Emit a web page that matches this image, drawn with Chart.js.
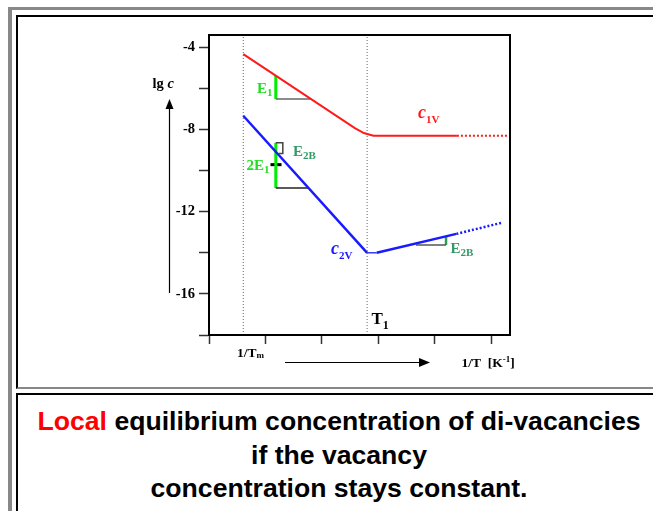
<!DOCTYPE html>
<html>
<head>
<meta charset="utf-8">
<script src="https://cdn.jsdelivr.net/npm/chart.js@4"></script>
<style>
  html, body { margin:0; padding:0; background:#fff; width:653px; height:511px; overflow:hidden; }
  #outer { position:absolute; left:8px; top:7px; width:800px; height:600px; border-top:3px solid #888; border-left:4px solid #888; }
  #p1 { position:absolute; left:16px; top:15px; width:800px; height:370px; border-top:2px solid #000; border-left:2px solid #000; border-bottom:2px solid #888; }
  #p2 { position:absolute; left:16px; top:393px; width:800px; height:300px; border-top:2px solid #000; border-left:2px solid #000; }
  #cap { position:absolute; left:0; top:405px; width:678px; text-align:center; font-family:"Liberation Sans", Arial, sans-serif; font-weight:bold; font-size:26.6px; line-height:33.5px; color:#000; }
  #cap .red { color:#ff0000; }
  #c { position:absolute; left:0; top:0; }
</style>
</head>
<body>
<div id="outer"></div>
<div id="p1"></div>
<div id="p2"></div>
<div id="cap"><span class="red">Local</span> equilibrium concentration of di-vacancies<br>if the vacancy<br>concentration stays constant.</div>
<canvas id="c" width="653" height="387"></canvas>
<script>
// ---- data ----
const xTicks = [0, 1, 2, 3, 4, 5];
const yTicks = [-18, -16, -14, -12, -10, -8, -6, -4];
const yLabelled = [-16, -12, -8, -4];

// c1V : vacancy concentration (red)
const c1vX = [0.607, 2.583, 2.743, 2.911, 4.39, 5.28];
const c1vY = [-4.33, -7.93, -8.17, -8.30, -8.30, -8.30];
// c2V : di-vacancy concentration (blue)
const c2vX = [0.607, 2.80, 2.97, 4.38, 5.18];
const c2vY = [-7.33, -14.0, -14.0, -13.08, -12.54];

// vertical markers: 1/Tm and T1
const markerX = [0.607, 2.80];

// slope triangles
const e1BarX = [1.183, 1.183],  e1BarY = [-5.38, -6.52];
const e1BaseX = [1.183, 1.81],  e1BaseY = [-6.52, -6.52];
const e2BarX = [1.183, 1.183],  e2BarY = [-8.64, -10.84];
const e2BaseX = [1.183, 1.76],  e2BaseY = [-10.84, -10.84];
const e2MidX = [1.089, 1.284],  e2MidY = [-9.71, -9.71];
const brX = [1.183, 1.307, 1.307, 1.24], brY = [-8.64, -8.64, -9.17, -9.17];
const e2bBaseX = [3.665, 4.197], e2bBaseY = [-13.62, -13.62];
const e2bBarX = [4.197, 4.197],  e2bBarY = [-13.62, -13.18];

const X_MIN = 0, X_MAX = 5.33, Y_MIN = -18, Y_MAX = -3.4;

// ---- helpers ----
const pts = (xs, ys) => xs.map((x, i) => ({ x: x, y: ys[i] }));
function ds(data, color, width, extra) {
  return Object.assign({ data: data, borderColor: color, borderWidth: width, showLine: true,
    pointRadius: 0, fill: false, tension: 0 }, extra || {});
}

const datasets = [];
markerX.forEach(mx => datasets.push(ds(pts([mx, mx], [Y_MIN, Y_MAX]), '#666', 1, { borderDash: [1, 2] })));
datasets.push(ds(pts(c1vX, c1vY), '#ff1a1a', 2, {
  segment: { borderDash: c => c.p0DataIndex >= c1vX.length - 2 ? [2, 2] : undefined }
}));
datasets.push(ds(pts(c2vX, c2vY), '#1a1aff', 2.5, {
  segment: {
    borderDash: c => c.p0DataIndex >= c2vX.length - 2 ? [2, 2] : undefined,
    borderWidth: c => c.p0DataIndex === 1 ? 1.3 : undefined
  }
}));
datasets.push(ds(pts(e1BaseX, e1BaseY), '#666', 1.5));
datasets.push(ds(pts(e2BaseX, e2BaseY), '#222', 1.5));
datasets.push(ds(pts(brX, brY), '#444', 1.5));
datasets.push(ds(pts(e2bBaseX, e2bBaseY), '#555', 1.5));
datasets.push(ds(pts(e1BarX, e1BarY), '#00ee00', 3));
datasets.push(ds(pts(e2BarX, e2BarY), '#00ee00', 3));
datasets.push(ds(pts(e2MidX, e2MidY), '#000', 3));
datasets.push(ds(pts(e2bBarX, e2bBarY), '#2e9b57', 2.5));

const SERIF = '"Liberation Serif", "Times New Roman", serif';

function text(ctx, s, x, y, font, color) {
  ctx.font = font; ctx.fillStyle = color; ctx.textBaseline = 'alphabetic'; ctx.textAlign = 'left';
  ctx.fillText(s, x, y);
  return x + ctx.measureText(s).width;
}
function withSub(ctx, main, sub, x, y, mainFont, subFont, color, dy) {
  const x2 = text(ctx, main, x, y, mainFont, color);
  return text(ctx, sub, x2, y + dy, subFont, color);
}

const deco = {
  id: 'deco',
  afterDraw(chart) {
    const ctx = chart.ctx, a = chart.chartArea;
    ctx.save();
    // plot frame
    ctx.strokeStyle = '#000'; ctx.lineWidth = 2;
    ctx.strokeRect(a.left, a.top, a.right - a.left, a.bottom - a.top);

    // vertical arrow (lg c)
    ctx.lineWidth = 1.2;
    ctx.beginPath(); ctx.moveTo(169.5, 293); ctx.lineTo(169.5, 106); ctx.stroke();
    ctx.fillStyle = '#000';
    ctx.beginPath(); ctx.moveTo(169.5, 99); ctx.lineTo(165.5, 109); ctx.lineTo(173.5, 109); ctx.closePath(); ctx.fill();
    // horizontal arrow (1/T)
    ctx.beginPath(); ctx.moveTo(285, 362.5); ctx.lineTo(422, 362.5); ctx.stroke();
    ctx.beginPath(); ctx.moveTo(430, 362.5); ctx.lineTo(419, 358); ctx.lineTo(419, 367); ctx.closePath(); ctx.fill();

    // axis titles
    let xe = text(ctx, 'lg ', 152.5, 87.5, 'bold 14.5px ' + SERIF, '#000');
    text(ctx, 'c', xe, 87.5, 'italic bold 14.5px ' + SERIF, '#000');
    withSub(ctx, '1/T', 'm', 237, 356.5, 'bold 13.5px ' + SERIF, 'bold 9px ' + SERIF, '#000', 1.5);
    xe = text(ctx, '1/T  [K', 461.5, 366.5, 'bold 13.5px ' + SERIF, '#000');
    xe = text(ctx, '-1', xe, 361.5, 'bold 9px ' + SERIF, '#000');
    text(ctx, ']', xe, 366.5, 'bold 13.5px ' + SERIF, '#000');

    // T1
    withSub(ctx, 'T', '1', 371.5, 323.5, 'bold 17px ' + SERIF, 'bold 12px ' + SERIF, '#000', 5);

    // energies
    withSub(ctx, 'E', '1', 257, 92.7, 'bold 15px ' + SERIF, 'bold 11px ' + SERIF, '#22dd22', 3.5);
    withSub(ctx, '2E', '1', 246.5, 169.5, 'bold 15px ' + SERIF, 'bold 11px ' + SERIF, '#22dd22', 3.5);
    withSub(ctx, 'E', '2B', 293, 156, 'bold 15px ' + SERIF, 'bold 11px ' + SERIF, '#339966', 3);
    withSub(ctx, 'E', '2B', 450.5, 252.7, 'bold 15px ' + SERIF, 'bold 11px ' + SERIF, '#339966', 3);

    // curve names
    withSub(ctx, 'c', '1V', 418, 117.5, 'italic bold 18px ' + SERIF, 'bold 11px ' + SERIF, '#ff1a1a', 5);
    withSub(ctx, 'c', '2V', 331, 254, 'italic bold 18px ' + SERIF, 'bold 11px ' + SERIF, '#1a1aff', 5);
    ctx.restore();
  }
};

new Chart(document.getElementById('c'), {
  type: 'scatter',
  data: { datasets: datasets },
  options: {
    responsive: false,
    animation: false,
    devicePixelRatio: 1,
    layout: { padding: { left: 0, right: 143, top: 35, bottom: 0 } },
    plugins: { legend: { display: false }, tooltip: { enabled: false } },
    scales: {
      x: {
        type: 'linear', min: X_MIN, max: X_MAX, position: 'bottom',
        afterBuildTicks: s => { s.ticks = xTicks.map(v => ({ value: v })); },
        afterFit: s => { s.height = 52; },
        ticks: { callback: () => '', font: { size: 1 } },
        grid: { drawOnChartArea: false, drawTicks: true, tickLength: 9, tickColor: '#333', tickWidth: 1.5 },
        border: { display: true, color: '#000', width: 2 }
      },
      y: {
        type: 'linear', min: Y_MIN, max: Y_MAX,
        afterBuildTicks: s => { s.ticks = yTicks.map(v => ({ value: v })); },
        afterFit: s => { s.width = 209; },
        ticks: {
          callback: v => yLabelled.includes(v) ? String(v) : '',
          padding: 4, color: '#000',
          font: { family: SERIF, size: 14.5, weight: 'bold' }
        },
        grid: { drawOnChartArea: false, drawTicks: true, tickLength: 10, tickColor: '#333', tickWidth: 1.5 },
        border: { display: true, color: '#000', width: 2 }
      }
    }
  },
  plugins: [deco]
});
</script>
</body>
</html>
